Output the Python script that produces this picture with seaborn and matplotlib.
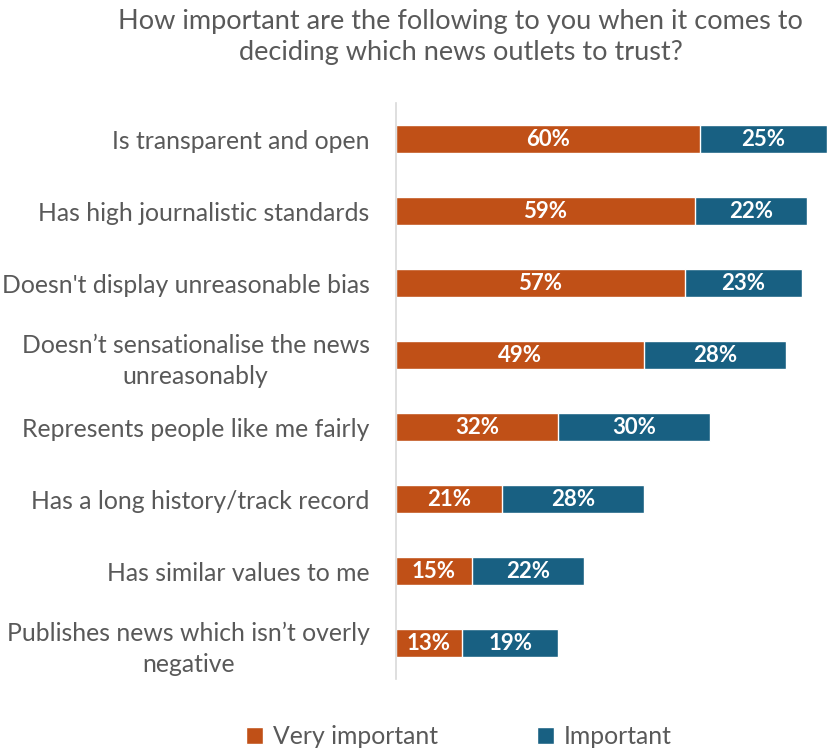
import matplotlib
matplotlib.use("Agg")
import matplotlib.pyplot as plt
from matplotlib.patches import Patch
import seaborn as sns
import pandas as pd

categories = [
    "Is transparent and open",
    "Has high journalistic standards",
    "Doesn't display unreasonable bias",
    "Doesn\u2019t sensationalise the news\nunreasonably",
    "Represents people like me fairly",
    "Has a long history/track record",
    "Has similar values to me",
    "Publishes news which isn\u2019t overly\nnegative",
]
very_important = [60, 59, 57, 49, 32, 21, 15, 13]
important = [25, 22, 23, 28, 30, 28, 22, 19]

ORANGE = "#C05017"
BLUE = "#186082"
GREY = "#595959"

sns.set_theme(style="white")
plt.rcParams["font.family"] = ["Lato", "DejaVu Sans"]

df = pd.DataFrame({
    "category": categories,
    "very": very_important,
    "important": important,
})
df["total"] = df["very"] + df["important"]

fig = plt.figure(figsize=(8.27, 7.52), dpi=100)
ax = fig.add_axes([0.4788, 0.097, 0.5212, 0.766])

# stacked bars: full total in blue, very important overlaid in orange
sns.barplot(data=df, x="total", y="category", color=BLUE, orient="h",
            width=0.39, saturation=1, ax=ax)
sns.barplot(data=df, x="very", y="category", color=ORANGE, orient="h",
            width=0.39, saturation=1, ax=ax)

for i, row in df.iterrows():
    ax.text(row["very"] / 2, i, f"{row['very']}%", ha="center", va="center",
            color="white", fontsize=16, fontweight="bold")
    ax.text(row["very"] + row["important"] / 2, i, f"{row['important']}%",
            ha="center", va="center", color="white", fontsize=16,
            fontweight="bold")

ax.set_xlim(0, 85)
ax.set_ylim(7.5, -0.5)
ax.set_xlabel("")
ax.set_ylabel("")
ax.set_xticks([])
for side in ["top", "right", "bottom"]:
    ax.spines[side].set_visible(False)
ax.spines["left"].set_color("#D9D9D9")
ax.spines["left"].set_linewidth(1.2)
ax.tick_params(axis="y", length=0, pad=19, labelsize=17.8, labelcolor=GREY)
for lbl in ax.get_yticklabels():
    lbl.set_multialignment("center")
    lbl.set_linespacing(1.4)

fig.text(0.557, 0.988,
         "How important are the following to you when it comes to\n"
         "deciding which news outlets to trust?",
         ha="center", va="top", fontsize=19.5, color=GREY, linespacing=1.3)

handles = [Patch(facecolor=ORANGE, label="Very important"),
           Patch(facecolor=BLUE, label="Important")]
fig.legend(handles=handles, loc="center", bbox_to_anchor=(0.555, 0.02),
           ncol=2, frameon=False, fontsize=17.8, labelcolor=GREY,
           handlelength=0.7, handleheight=0.7, handletextpad=0.4,
           columnspacing=4.0)

fig.savefig("out.png", dpi=100)
